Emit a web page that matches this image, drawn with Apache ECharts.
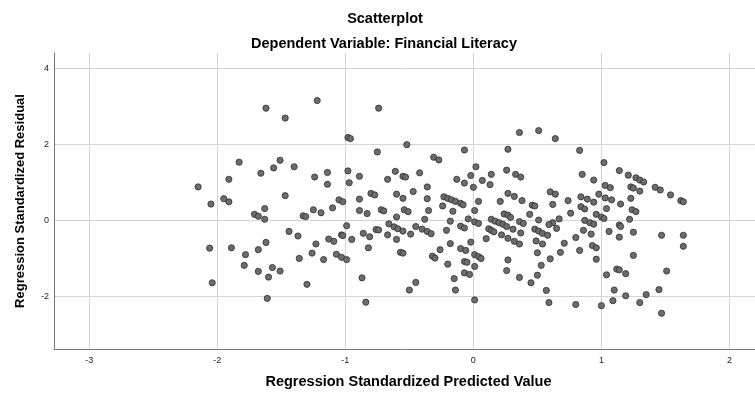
<!DOCTYPE html>
<html>
<head>
<meta charset="utf-8">
<script src="https://cdn.jsdelivr.net/npm/echarts@6/dist/echarts.min.js"></script>
<style>
html,body{margin:0;padding:0;background:#fff;}
#chart{width:755px;height:394px;}
</style>
</head>
<body>
<div id="chart"></div>
<script>
// Regression Standardized Predicted Value (x) and Regression Standardized Residual (y)
const predicted = [
-1.62,-1.22,-1.47,-1.83,-1.51,-1.56,-1.40,-1.66,-1.91,-1.24,-1.14,-1.14,-2.15,-1.47,-1.95,-1.91,-2.05,
-1.63,-1.25,-1.19,-1.10,-1.71,-1.68,-1.63,-1.33,-1.31,-1.44,-1.37,-2.06,-1.89,-1.62,-1.68,-1.78,-1.23,
-1.13,-1.36,-1.26,-1.17,-1.79,-1.57,-1.68,-1.51,-1.60,-2.04,-1.30,-1.61,
-0.74,-0.98,-0.96,-0.52,-0.75,-0.07,-0.31,-0.27,0.02,-0.02,-0.98,-0.97,-0.89,-0.61,-0.67,-0.55,-0.53,
-0.42,-0.36,-0.47,-0.13,-0.07,0.00,-0.80,-0.77,-0.60,-0.55,-0.89,-1.05,-1.02,-0.36,-0.23,-0.20,-0.17,
-0.14,-0.10,-0.08,-0.24,
-0.89,-0.83,-0.72,-0.70,-0.60,-0.54,-0.51,-0.35,-0.38,-0.16,0.01,-0.99,-1.03,-1.02,-1.09,-0.95,-0.86,
-0.81,-0.76,-0.74,-0.66,-0.62,-0.59,-0.55,-0.67,-0.60,-0.49,-0.45,-0.40,-0.36,-0.33,-0.21,-0.18,-0.10,
-0.07,-0.04,0.01,0.04,-0.18,-0.02,-0.82,-1.07,-1.03,-0.99,-0.57,-0.55,-0.32,-0.30,-0.26,-0.10,-0.06,
0.01,0.04,-0.20,-0.07,-0.05,0.01,-0.07,-0.03,-0.15,-0.87,-0.45,-0.50,-0.14,-0.84,0.01,
0.36,0.51,0.64,0.27,0.83,0.26,0.33,0.37,0.14,0.07,0.13,1.02,0.85,0.94,1.14,1.03,1.07,0.60,0.64,0.27,
0.32,0.84,0.89,0.94,0.98,1.03,1.08,0.04,0.21,0.38,0.74,0.46,0.48,0.62,
0.84,0.87,0.24,0.27,0.29,0.44,0.51,0.62,0.67,0.76,0.96,1.00,1.02,1.04,0.14,0.17,0.20,0.23,0.26,0.36,
0.39,0.12,0.14,0.16,0.22,0.27,0.31,0.37,0.48,0.51,0.54,0.58,0.59,0.65,0.87,0.91,0.94,0.86,0.80,0.92,
1.06,1.14,1.15,1.14,0.10,0.32,0.36,0.49,0.54,0.71,0.93,0.96,0.83,0.50,0.68,0.06,0.27,0.60,0.96,0.53,
0.26,0.50,0.36,0.45,1.04,1.12,1.14,0.57,1.10,0.59,0.80,1.00,1.09,
1.21,1.27,1.30,1.33,1.42,1.46,1.54,1.62,1.64,1.23,1.25,1.30,1.15,1.23,
1.24,1.27,1.22,1.25,1.47,1.64,1.64,1.25,1.19,1.51,1.19,1.35,1.45,1.30,1.47
];
const residual = [
2.95,3.15,2.69,1.53,1.58,1.38,1.41,1.24,1.08,1.14,1.26,0.95,0.88,0.65,0.57,0.49,0.43,
0.31,0.28,0.20,0.33,0.16,0.11,0.03,0.12,0.10,-0.29,-0.41,-0.73,-0.72,-0.58,-0.77,-0.90,-0.62,
-0.49,-1.00,-0.86,-1.03,-1.18,-1.24,-1.34,-1.33,-1.49,-1.64,-1.68,-2.05,
2.95,2.18,2.15,1.99,1.80,1.85,1.66,1.59,1.41,1.18,1.30,0.99,1.16,1.29,1.08,1.16,1.14,
1.25,0.88,0.76,1.08,0.98,0.87,0.71,0.67,0.69,0.58,0.56,0.54,0.49,0.57,0.62,0.58,0.54,
0.50,0.45,0.41,0.38,
0.26,0.18,0.28,0.25,0.09,0.28,0.23,0.26,0.03,0.24,0.26,-0.14,-0.38,-0.40,-0.55,-0.50,-0.34,
-0.43,-0.24,-0.25,-0.09,-0.17,-0.22,-0.28,-0.38,-0.50,-0.36,-0.16,-0.23,-0.29,-0.35,-0.26,-0.02,-0.15,
-0.20,0.04,-0.04,-0.08,-0.61,-0.57,-0.72,-0.89,-0.97,-1.03,-0.84,-0.86,-0.94,-0.99,-0.77,-0.74,-0.79,
-0.90,-0.95,-1.15,-1.08,-1.10,-1.21,-1.38,-1.42,-1.53,-1.51,-1.63,-1.83,-1.83,-2.15,-2.09,
2.31,2.36,2.15,1.87,1.84,1.32,1.21,1.14,1.21,1.05,0.94,1.52,1.21,1.06,1.31,0.92,0.86,0.75,0.69,0.71,
0.63,0.62,0.56,0.48,0.69,0.59,0.54,0.50,0.50,0.52,0.52,0.40,0.38,0.42,
0.36,0.30,0.17,0.14,0.08,0.16,0.01,-0.06,0.04,0.19,0.16,0.09,0.05,0.31,0.03,-0.02,-0.06,-0.10,-0.16,-0.03,
-0.08,-0.22,-0.26,-0.30,-0.38,-0.47,-0.23,-0.33,-0.23,-0.28,-0.34,-0.39,-0.11,-0.21,0.00,-0.06,-0.10,-0.26,-0.45,-0.36,
-0.29,-0.12,-0.16,-0.44,-0.48,-0.55,-0.62,-0.54,-0.62,-0.60,-0.66,-0.72,-0.79,-0.85,-0.84,-1.00,-1.04,-1.01,-1.02,-1.18,
-1.32,-1.44,-1.50,-1.64,-1.43,-1.28,-1.30,-1.84,-1.83,-2.16,-2.21,-2.24,-2.11,
1.19,1.12,1.06,1.01,0.87,0.80,0.67,0.52,0.49,0.88,0.85,0.77,0.43,0.58,
0.28,0.23,0.03,-0.31,-0.39,-0.39,-0.68,-0.92,-1.40,-1.33,-1.98,-1.95,-1.82,-2.16,-2.44
];
const xTicks = [-3, -2, -1, 0, 1, 2];
const yTicks = [-2, 0, 2, 4];

const points = predicted.map((v, i) => [v, residual[i]]);
const FONT = '"Liberation Sans", Arial, sans-serif';
const chart = echarts.init(document.getElementById('chart'), null, {renderer: 'canvas'});
const labX = (v) => (xTicks.some(t => Math.abs(t - v) < 1e-6) ? String(Math.round(v)) : '');
const labY = (v) => (yTicks.some(t => Math.abs(t - v) < 1e-6) ? String(Math.round(v)) : '');
chart.setOption({
  animation: false,
  backgroundColor: '#ffffff',
  graphic: [
    {type: 'text', x: 385, y: 19, style: {text: 'Scatterplot', font: 'bold 14.5px ' + FONT, fill: '#000', textAlign: 'center', textVerticalAlign: 'middle'}},
    {type: 'text', x: 384, y: 44, style: {text: 'Dependent Variable: Financial Literacy', font: 'bold 14.5px ' + FONT, fill: '#000', textAlign: 'center', textVerticalAlign: 'middle'}}
  ],
  grid: {left: 54, top: 53, right: 0, bottom: 41, containLabel: false},
  xAxis: {
    type: 'value', min: -3.276, max: 2.2,
    name: 'Regression Standardized Predicted Value', nameLocation: 'middle', nameGap: 25,
    nameTextStyle: {fontFamily: FONT, fontWeight: 'bold', fontSize: 14.5, color: '#000', verticalAlign: 'top', padding: [0, 0, 0, 8]},
    axisLine: {show: true, onZero: false, lineStyle: {color: '#777', width: 1}},
    axisTick: {show: false},
    axisLabel: {fontFamily: FONT, fontSize: 9, color: '#222', margin: 7, formatter: labX, showMinLabel: false, showMaxLabel: false},
    splitLine: {show: true, showMinLine: false, showMaxLine: false, lineStyle: {color: '#d4d4d4', width: 1}}
  },
  yAxis: {
    type: 'value', min: -3.38, max: 4.40,
    name: 'Regression Standardized Residual', nameLocation: 'middle', nameGap: 27, nameRotate: 90,
    nameTextStyle: {fontFamily: FONT, fontWeight: 'bold', fontSize: 13, color: '#000'},
    axisLine: {show: true, onZero: false, lineStyle: {color: '#777', width: 1}},
    axisTick: {show: false},
    axisLabel: {fontFamily: FONT, fontSize: 9, color: '#222', margin: 5, formatter: labY, showMinLabel: false, showMaxLabel: false},
    splitLine: {show: true, showMinLine: false, showMaxLine: false, lineStyle: {color: '#d4d4d4', width: 1}}
  },
  series: [{
    type: 'scatter',
    data: points,
    symbol: 'circle',
    symbolSize: 6.2,
    itemStyle: {color: '#6c6c6c', borderColor: '#2e2e2e', borderWidth: 0.8, opacity: 1}
  }]
});
</script>
</body>
</html>
